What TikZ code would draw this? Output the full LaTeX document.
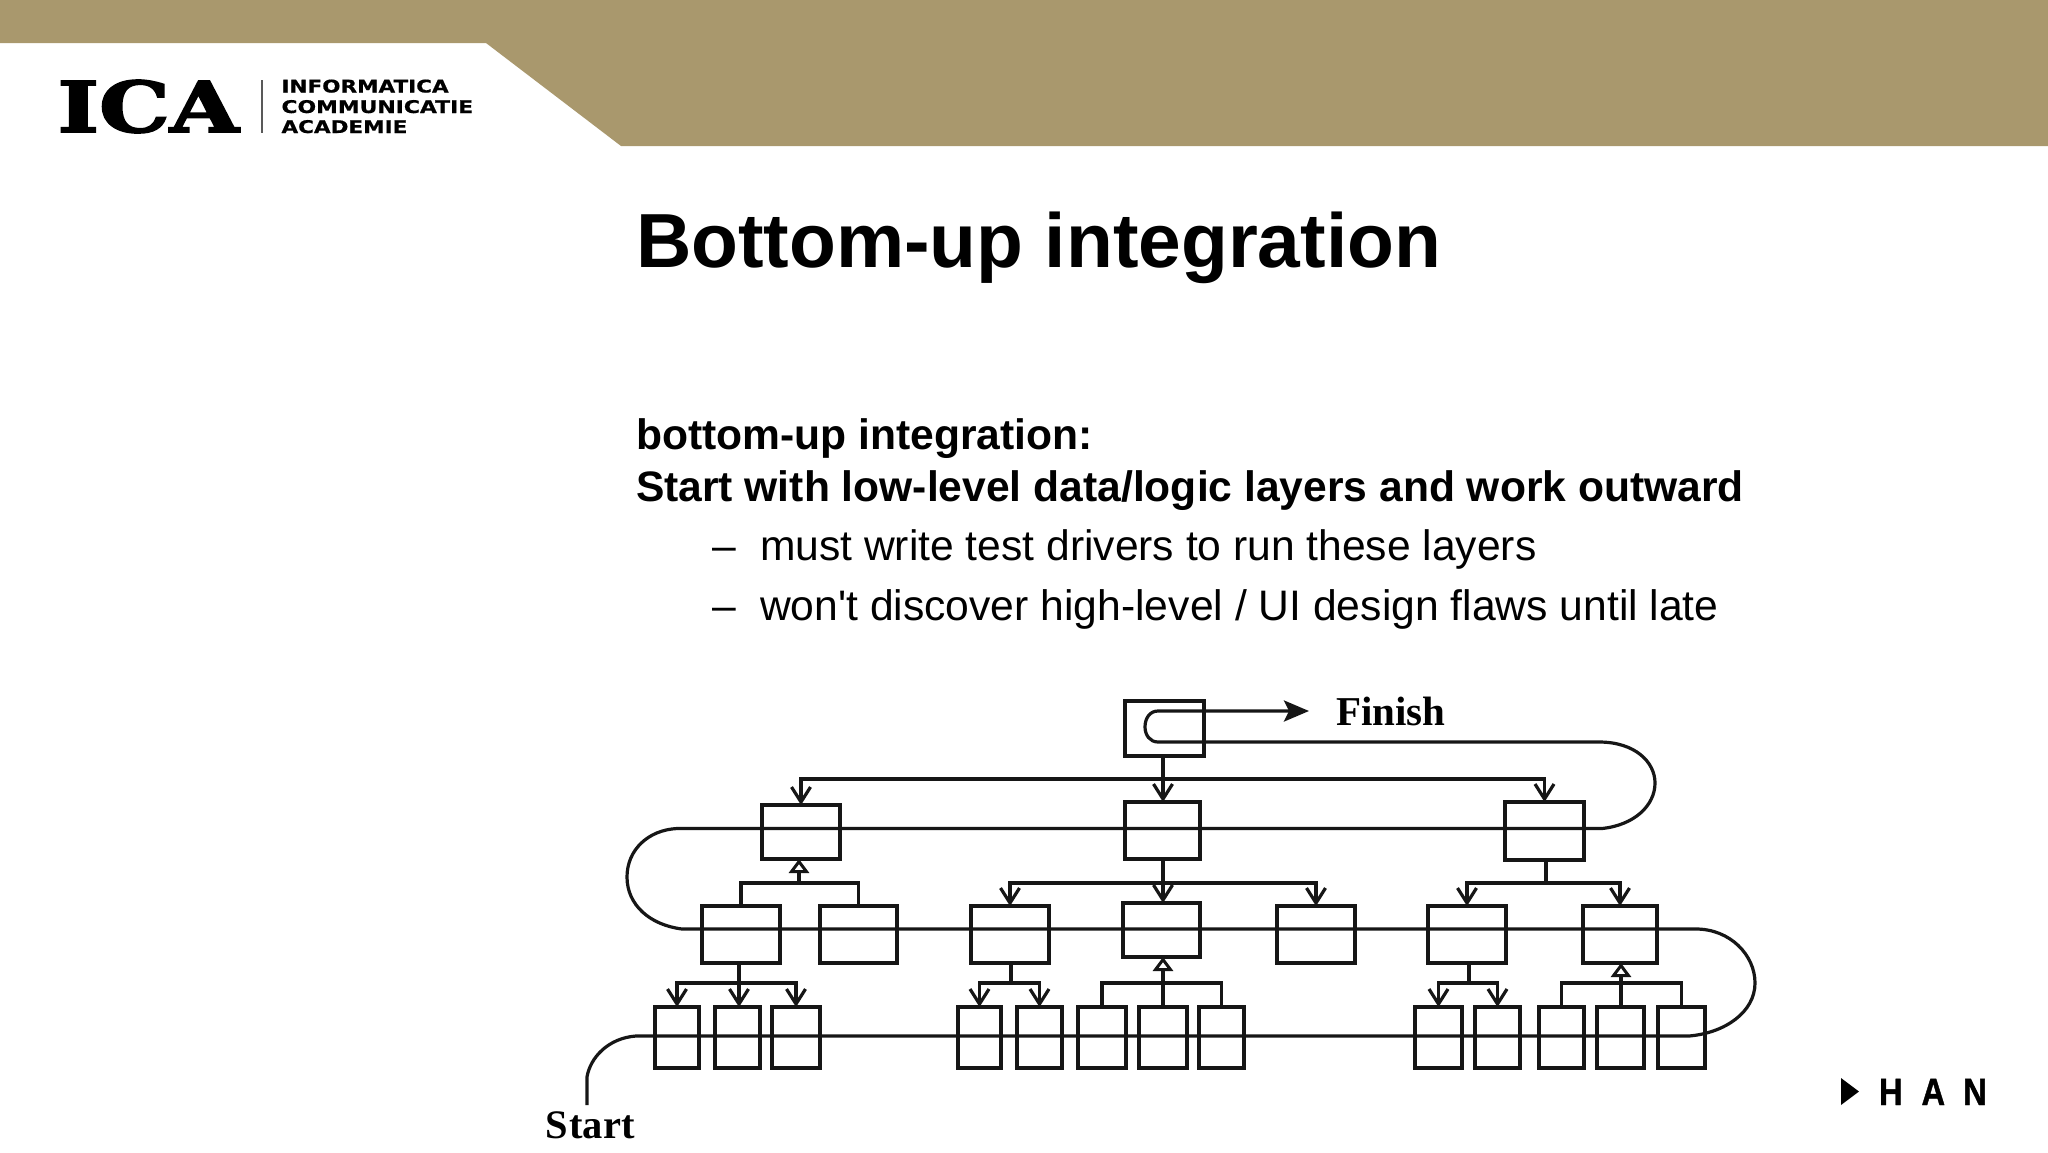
\documentclass[tikz,border=0pt]{standalone}
\usepackage{fontspec}
\setmainfont{Liberation Sans}
\newfontfamily\serifb{Liberation Serif}[BoldFont={Liberation Serif Bold}]
\newfontfamily\icafont{DejaVu Serif}[BoldFont={DejaVu Serif Bold},BoldFeatures={FakeBold=2.5}]
\newfontfamily\icasub{DejaVu Sans}[BoldFont={DejaVu Sans Bold},BoldFeatures={FakeBold=0.6}]
\newfontfamily\hanfont{Liberation Sans}[BoldFont={Liberation Sans Bold},BoldFeatures={FakeBold=1.2}]
\usetikzlibrary{arrows.meta,calc}
\definecolor{bandc}{RGB}{169,152,109}
\definecolor{inkc}{RGB}{22,22,22}
\tikzset{
  x=1pt,y=-1pt,
  boxn/.style={draw=inkc,line width=3.2pt,inner sep=0pt,outer sep=0pt,rectangle},
  ln/.style={draw=inkc,line width=3.2pt},
  barb/.style={ln,-{Straight Barb[length=15pt,width=19pt,line width=3.2pt]}},
  tri/.style={ln,-{Triangle[open,length=14pt,width=20pt,line width=3pt,fill=white]}},
  solidarr/.style={ln,-{Stealth[length=25pt,width=21pt,inset=5pt]}},
  txt/.style={inner sep=0pt,outer sep=0pt,anchor=base west,text=black},
}
\newcommand{\bx}[5]{\node[boxn,minimum width={#3-#2},minimum height={#5-#4}] (#1) at ({(#2+#3)/2},{(#4+#5)/2}) {};}
\begin{document}
\begin{tikzpicture}
\useasboundingbox (0,0) rectangle (2048,1152);
\fill[white] (0,0) rectangle (2048,1152);
\fill[bandc] (0,0) -- (2048,0) -- (2048,146) -- (621,146) -- (486,43) -- (0,43) -- cycle;

% ICA logo
\node[txt,xscale=1.27] (ica) at (57.5,132) {\fontsize{70}{70}\selectfont\icafont\bfseries ICA};
\coordinate (ruleT) at (262,80); \coordinate (ruleB) at (262,133);
\draw[line width=2pt,draw=black!65] (ruleT) -- (ruleB);
\node[txt,xscale=1.23] (sub1) at (281.5,92.5) {\fontsize{17.5}{17.5}\selectfont\icasub\bfseries INFORMATICA};
\node[txt,xscale=1.25] (sub2) at (281.5,113) {\fontsize{17.5}{17.5}\selectfont\icasub\bfseries COMMUNICATIE};
\node[txt,xscale=1.23] (sub3) at (281.5,133) {\fontsize{17.5}{17.5}\selectfont\icasub\bfseries ACADEMIE};

% texts
\node[txt] (title) at (636,267) {\fontsize{76.7}{80}\selectfont\bfseries Bottom-up integration};
\node[txt] (b1) at (636,449.5) {\fontsize{42.6}{46}\selectfont\bfseries bottom-up integration:};
\node[txt] (b2) at (636,501) {\fontsize{42.6}{46}\selectfont\bfseries Start with low-level data/logic layers and work outward};
\node[txt] (d1) at (712,560) {\fontsize{42.6}{46}\selectfont –};
\node[txt] (s1) at (760,560) {\fontsize{42.6}{46}\selectfont must write test drivers to run these layers};
\node[txt] (d2) at (712,620) {\fontsize{42.6}{46}\selectfont –};
\node[txt] (s2) at (760,620) {\fontsize{42.65}{46}\selectfont won\textquotesingle t discover high-level / UI design flaws until late};

% HAN logo
\fill[black] (1841,1078) -- (1859,1091.5) -- (1841,1105) -- cycle;
\node[txt,xscale=.86] (han) at (1879,1105) {\fontsize{38}{38}\selectfont\hanfont\bfseries H\hspace{22pt}A\hspace{21pt}N};

% boxes
\bx{top}{1125}{1204}{701}{756}
\bx{La}{762}{840}{805}{859}
\bx{Lb}{1125}{1200}{802}{859}
\bx{Lc}{1505}{1584}{802}{860}
\bx{A}{702}{780}{906}{963}
\bx{B}{820}{897}{906}{963}
\bx{C}{971}{1049}{906}{963}
\bx{D}{1123}{1200}{903}{957}
\bx{E}{1277}{1355}{906}{963}
\bx{F}{1428}{1506}{906}{963}
\bx{G}{1583}{1657}{906}{963}
\bx{ga}{655}{699}{1007}{1068}
\bx{gb}{715}{760}{1007}{1068}
\bx{gc}{772}{820}{1007}{1068}
\bx{ha}{958}{1001}{1007}{1068}
\bx{hb}{1017}{1062}{1007}{1068}
\bx{ia}{1078}{1126}{1007}{1068}
\bx{ib}{1139}{1187}{1007}{1068}
\bx{ic}{1199}{1244}{1007}{1068}
\bx{ja}{1415}{1462}{1007}{1068}
\bx{jb}{1475}{1520}{1007}{1068}
\bx{ka}{1539}{1584}{1007}{1068}
\bx{kb}{1597}{1644}{1007}{1068}
\bx{kc}{1658}{1705}{1007}{1068}

% level 0 -> 1
\coordinate (bus0) at (1163,779);
\draw[barb] (bus0 |- top.south) -- (bus0 |- Lb.north);
\draw[barb] (bus0) -| (La.north);
\draw[barb] (bus0) -| (Lc.north);

% level 1 -> 2
\coordinate (busLa) at (799,883);
\draw[ln] (A.north) |- (busLa) -| (B.north);
\draw[tri] (busLa) -- (busLa |- La.south);
\coordinate (busLb) at (1163,883);
\draw[barb] (busLb |- Lb.south) -- (busLb |- D.north);
\draw[barb] (busLb) -| (C.north);
\draw[barb] (busLb) -| (E.north);
\coordinate (busLc) at (1546,883);
\draw[ln] (busLc |- Lc.south) -- (busLc);
\draw[barb] (busLc) -| (F.north);
\draw[barb] (busLc) -| (G.north);

% level 2 -> 3
\coordinate (busA) at (739,983);
\draw[ln] (busA |- A.south) -- (busA);
\draw[barb] (busA) -| (ga.north);
\draw[barb] (busA) -- (busA |- gb.north);
\draw[barb] (busA) -| (gc.north);
\coordinate (busC) at (1011,983);
\draw[ln] (busC |- C.south) -- (busC);
\draw[barb] (busC) -| (ha.north);
\draw[barb] (busC) -| (hb.north);
\coordinate (busD) at (1163,983);
\draw[ln] (ia.north) |- (busD) -| (ic.north);
\draw[tri] (busD |- ib.north) -- (busD |- D.south);
\coordinate (busF) at (1469,983);
\draw[ln] (busF |- F.south) -- (busF);
\draw[barb] (busF) -| (ja.north);
\draw[barb] (busF) -| (jb.north);
\coordinate (busG) at (1621,983);
\draw[ln] (ka.north) |- (busG) -| (kc.north);
\draw[tri] (busG |- kb.north) -- (busG |- G.south);

% the snake route
\node[txt] (start) at (545,1138) {\fontsize{40.5}{41}\selectfont\serifb\bfseries S\hspace{2pt}tart};
\node[txt] (finish) at (1336,725) {\fontsize{41}{41}\selectfont\serifb\bfseries Finish};
\coordinate (s0) at (587,1105);
\coordinate (fin) at (1309,711);
\draw[solidarr] (s0) -- (587,1077) .. controls (590,1058) and (608,1038) .. (636,1036)
  -- (1689,1036) .. controls (1725,1033) and (1755,1012) .. (1755,983)
  .. controls (1755,955) and (1730,929) .. (1696,929)
  -- (682,929) .. controls (650,925) and (627,905) .. (627,877)
  .. controls (627,850) and (648,830) .. (677,828.5)
  -- (1602,828.5) .. controls (1635,825) and (1655,805) .. (1655,783)
  .. controls (1655,762) and (1635,742) .. (1599,742)
  -- (1158,742) .. controls (1150,742) and (1145,735) .. (1145,727)
  .. controls (1145,718) and (1150,711) .. (1158,711)
  -- (fin);
\end{tikzpicture}
\end{document}
